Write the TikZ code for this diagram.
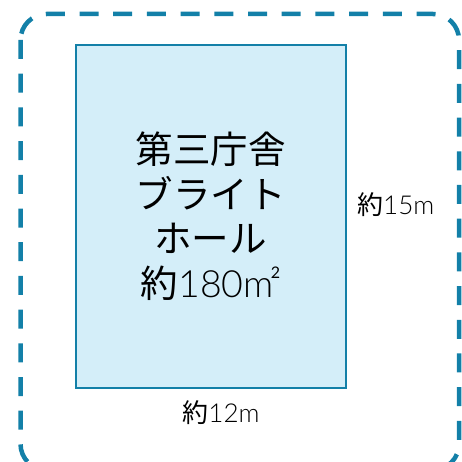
\documentclass[tikz,border=0pt]{standalone}
\usepackage{fontspec}
\newfontfamily\cjk{Noto Sans CJK JP}
\newfontfamily\thin{Lato}[UprightFont=* Light]
\newfontfamily\latin{Lato}
\definecolor{edge}{HTML}{1380A8}
\definecolor{roomfill}{HTML}{D4EEF9}
\newcommand{\sqm}{{\thin m\kern-0.08em\raisebox{0.5em}{\latin\fontsize{16}{16}\selectfont 2}}}
\tikzset{
  x=1pt, y=-1pt,
  border/.style={draw=edge, line width=4.5pt, dash pattern=on 19pt off 14.7pt, rounded corners=26pt},
  room/.style={draw=edge, fill=roomfill, line width=2pt},
  title/.style={font=\cjk\fontsize{37.5}{44.5}\selectfont, align=center, text=black},
  dimlabel/.style={font=\cjk\fontsize{26}{30}\selectfont, text=black, inner sep=0pt}
}
\begin{document}
\begin{tikzpicture}
\useasboundingbox (0,0) rectangle (462,462);
\draw[border] (20.5,14) rectangle (459,470);
\draw[room] (76,45) rectangle (345.5,387.5);
\node[title] (name) at (210.5,216) {第三庁舎\\ブライト\\ホール\\約{\thin 180}\sqm};
\node[dimlabel, anchor=west] (w) at (357,205) {約{\thin 15m}};
\node[dimlabel] (h) at (221,413) {約{\thin 12m}};
\end{tikzpicture}
\end{document}
